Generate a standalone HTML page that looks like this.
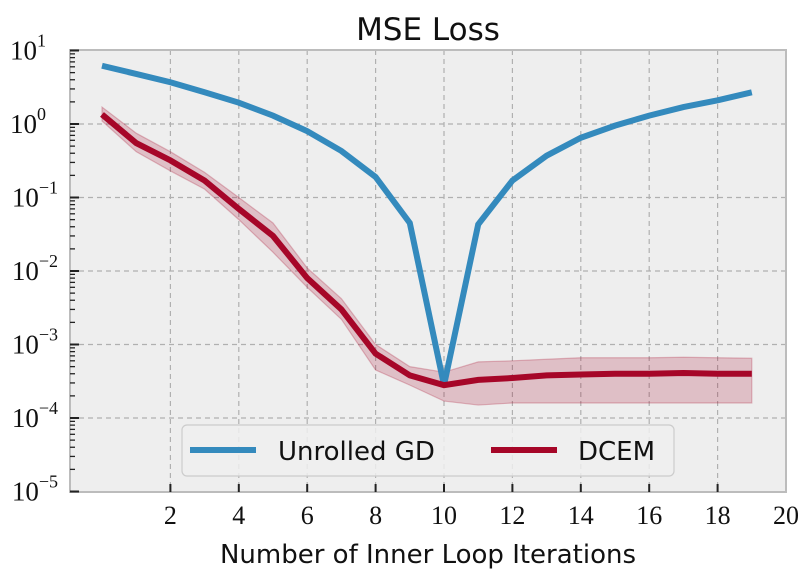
<!DOCTYPE html>
<html><head><meta charset="utf-8"><style>
body{margin:0;background:#fff;width:800px;height:574px;overflow:hidden}
svg{display:block}
</style></head><body>
<svg id="chart" width="800" height="574" xmlns="http://www.w3.org/2000/svg"></svg>
<script>
const xTicks=[2,4,6,8,10,12,14,16,18,20];
const yExps=[1,0,-1,-2,-3,-4,-5];
const iters=[0,1,2,3,4,5,6,7,8,9,10,11,12,13,14,15,16,17,18,19];
const gdValues=[6.2,4.8,3.7,2.7,1.95,1.3,0.8,0.43,0.19,0.045,0.00028,0.043,0.17,0.37,0.65,0.95,1.3,1.7,2.1,2.7];
const dcemValues=[1.35,0.55,0.32,0.17,0.07,0.03,0.008,0.003,0.00075,0.00038,0.00028,0.00033,0.00035,0.00038,0.00039,0.0004,0.0004,0.00041,0.0004,0.0004];
const dcemUpper=[1.7,0.75,0.42,0.22,0.1,0.045,0.011,0.0042,0.001,0.0005,0.00042,0.00058,0.0006,0.00063,0.00066,0.00066,0.00066,0.00067,0.00066,0.00065];
const dcemLower=[1.1,0.42,0.23,0.13,0.05,0.018,0.006,0.0022,0.00045,0.00028,0.00017,0.00015,0.00016,0.00016,0.00016,0.00016,0.00016,0.00016,0.00016,0.00016];

const L=70,R=786,T=50,B=492;
const xs=v=>102+v*34.2;
const ys=v=>50.5-(Math.log10(v)-1)*73.5;
const svg=document.getElementById('chart');
const NS='http://www.w3.org/2000/svg';
function el(tag,attrs,parent){const e=document.createElementNS(NS,tag);for(const k in attrs)e.setAttribute(k,attrs[k]);(parent||svg).appendChild(e);return e;}

const bg=el('rect',{x:L,y:T,width:R-L,height:B-T,fill:'#eeeeee'});



const grid=el('g',{stroke:'#b0b0b0','stroke-width':1.2,'stroke-dasharray':'5,4'});


xTicks.forEach(t=>{if(t<20)el('line',{x1:xs(t),x2:xs(t),y1:T,y2:B},grid);});
yExps.forEach(e=>{if(e<1&&e>-5)el('line',{x1:L,x2:R,y1:ys(Math.pow(10,e)),y2:ys(Math.pow(10,e))},grid);});

const band=el('path',{fill:'#a60628','fill-opacity':0.2,stroke:'#a60628','stroke-opacity':0.25,'stroke-width':1.2,
 d:'M'+iters.map((x,i)=>xs(x)+','+ys(dcemUpper[i])).join('L')+'L'+iters.slice().reverse().map(x=>xs(x)+','+ys(dcemLower[iters.indexOf(x)])).join('L')+'Z'});



const gd=el('polyline',{fill:'none',stroke:'#348abd','stroke-width':6,points:iters.map((x,i)=>xs(x)+','+ys(gdValues[i])).join(' ')});


const dc=el('polyline',{fill:'none',stroke:'#a60628','stroke-width':6,points:iters.map((x,i)=>xs(x)+','+ys(dcemValues[i])).join(' ')});



const frame=el('rect',{x:L,y:T,width:R-L,height:B-T,fill:'none',stroke:'#bcbcbc','stroke-width':2});



const ticks=el('g',{stroke:'#222'});


xTicks.forEach(t=>{if(t<20)el('line',{x1:xs(t),x2:xs(t),y1:B,y2:B-8,'stroke-width':2},ticks);});
for(let e=1;e>=-5;e--){
  el('line',{x1:L,x2:L+9,y1:ys(Math.pow(10,e)),y2:ys(Math.pow(10,e)),'stroke-width':2},ticks);
  if(e>-5)for(let m=2;m<=9;m++){const y=ys(m*Math.pow(10,e-1));el('line',{x1:L,x2:L+5,y1:y,y2:y,'stroke-width':1.3},ticks);}
}

const xl=el('g',{'font-family':'Liberation Serif, serif','font-size':26,fill:'#111','text-anchor':'middle'});


xTicks.forEach(t=>{const tx=el('text',{x:xs(t),y:524},xl);tx.textContent=t;});
const yl=el('g',{'font-family':'Liberation Serif, serif','font-size':27,fill:'#111','text-anchor':'end'});


yExps.forEach(e=>{const y=ys(Math.pow(10,e));const tx=el('text',{x:e<0?58:46,y:y+9},yl);
 tx.innerHTML='10<tspan font-size="18" dy="-13">'+(e<0?'\u2212'+(-e):e)+'</tspan>';});

const title=el('text',{x:428,y:40,'font-family':'DejaVu Sans, sans-serif','font-size':31,'text-anchor':'middle',fill:'#111'});
title.textContent='MSE Loss';


const xt=el('text',{x:428,y:563,'font-family':'DejaVu Sans, sans-serif','font-size':26,'text-anchor':'middle',fill:'#111'});
xt.textContent='Number of Inner Loop Iterations';



const lg=el('g',{});


el('rect',{x:182,y:425,width:492,height:51,rx:5,fill:'#eeeeee','fill-opacity':0.85,stroke:'#cccccc','stroke-width':1.2},lg);
const e1=el('g',{},lg);


el('line',{x1:190,x2:256,y1:450,y2:450,stroke:'#348abd','stroke-width':6},e1);
const t1=el('text',{x:278,y:460,'font-family':'DejaVu Sans, sans-serif','font-size':26,fill:'#111'},e1);t1.textContent='Unrolled GD';
const e2=el('g',{},lg);


el('line',{x1:491,x2:557,y1:450,y2:450,stroke:'#a60628','stroke-width':6},e2);
const t2=el('text',{x:578,y:460,'font-family':'DejaVu Sans, sans-serif','font-size':26,fill:'#111'},e2);t2.textContent='DCEM';
</script>
</body></html>
